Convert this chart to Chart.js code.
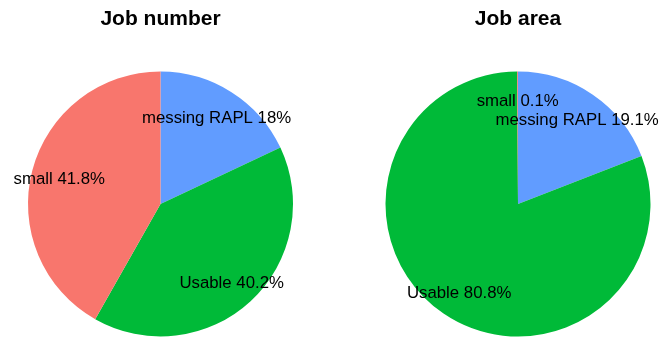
<!DOCTYPE html>
<html>
<head>
<meta charset="utf-8">
<script src="https://cdn.jsdelivr.net/npm/chart.js@4/dist/chart.umd.min.js"></script>
<style>
    body { margin: 0; background: #fff; }
    .box { position: absolute; top: 0; height: 338px; }
    #boxNumber { left: 0; width: 321px; }
    #boxArea { left: 376px; width: 284px; }
</style>
</head>
<body>
<div class="box" id="boxNumber"><canvas id="jobNumberChart"></canvas></div>
<div class="box" id="boxArea"><canvas id="jobAreaChart"></canvas></div>
<script>
var categories = ["messing RAPL", "Usable", "small"];
var jobNumber = [18, 40.2, 41.8];
var jobArea = [19.1, 80.8, 0.1];
var sliceColors = ["#619CFF", "#00BA38", "#F8766D"];
var fontFamily = "'Liberation Sans', Arial, sans-serif";

// writes "name xx%" inside each slice, at the middle angle
var sliceLabels = {
    id: "sliceLabels",
    afterDatasetsDraw: function (chart) {
        let ctx = chart.ctx;
        let meta = chart.getDatasetMeta(0);
        let values = chart.data.datasets[0].data;
        ctx.save();
        ctx.font = "16.8px " + fontFamily;
        ctx.fillStyle = "#000";
        ctx.textAlign = "center";
        ctx.textBaseline = "middle";
        meta.data.forEach(function (arc, i) {
            let mid = (arc.startAngle + arc.endAngle) / 2;
            let r = arc.outerRadius * 0.79;
            let x = arc.x + Math.cos(mid) * r;
            let y = arc.y + Math.sin(mid) * r + 2.5;
            ctx.fillText(chart.data.labels[i] + " " + values[i] + "%", x, y);
        });
        ctx.restore();
    },
};

function pieConfig(title, values) {
    return {
        type: "pie",
        data: {
            labels: categories,
            datasets: [
                {
                    data: values,
                    backgroundColor: sliceColors,
                    hoverBackgroundColor: sliceColors,
                    borderWidth: 0,
                },
            ],
        },
        options: {
            responsive: true,
            maintainAspectRatio: false,
            animation: false,
            layout: {
                padding: { bottom: 1.5 },
            },
            plugins: {
                legend: { display: false },
                tooltip: { enabled: false },
                title: {
                    display: true,
                    text: title,
                    color: "#000",
                    padding: { top: 6.4, bottom: 39.9 },
                    font: {
                        family: fontFamily,
                        size: 21,
                        weight: "bold",
                    },
                },
            },
        },
        plugins: [sliceLabels],
    };
}

var numberChart = new Chart("jobNumberChart", pieConfig("Job number", jobNumber));
var areaChart = new Chart("jobAreaChart", pieConfig("Job area", jobArea));
</script>
</body>
</html>
